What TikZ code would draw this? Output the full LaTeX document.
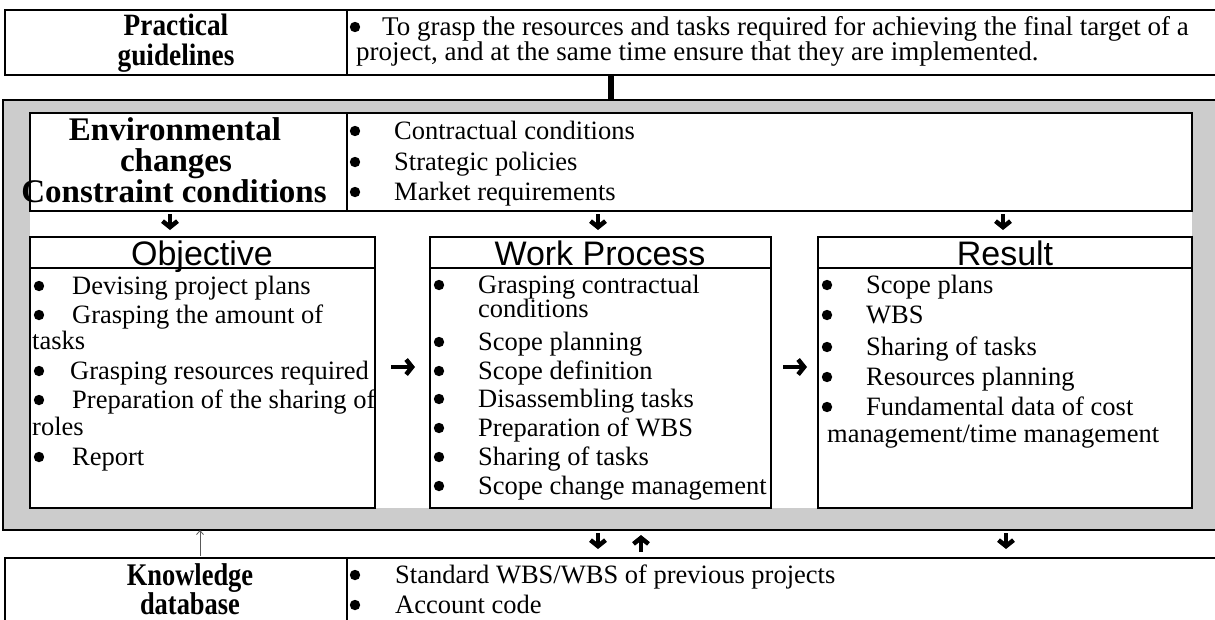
\documentclass[tikz,border=0pt]{standalone}
\usepackage{fontspec}
\setmainfont{Liberation Serif}
\newfontfamily\arialf{Liberation Sans}
\newfontfamily\condserif[FakeStretch=0.88]{Liberation Serif}
\newfontfamily\narrowserif[FakeStretch=0.84]{Liberation Serif}
\usetikzlibrary{arrows.meta}
\begin{document}
\begin{tikzpicture}[x=1pt,y=-1pt,
  cell/.style={draw, line width=2.5pt, anchor=north west, inner sep=0pt, outer sep=0pt},
  hdr/.style={font=\fontsize{33}{30}\selectfont\bfseries, anchor=base, inner sep=0pt},
  hdrs/.style={font=\condserif\fontsize{31}{30}\selectfont\bfseries, anchor=base, inner sep=0pt},
  hdrk/.style={font=\narrowserif\fontsize{31.5}{30}\selectfont\bfseries, anchor=base, inner sep=0pt},
  txt/.style={font=\fontsize{26.5}{27}\selectfont, anchor=base west, inner sep=0pt},
  toptxt/.style={font=\fontsize{27}{27}\selectfont, anchor=base west, inner sep=0pt},
  ttl/.style={font=\arialf\fontsize{34}{34}\selectfont, anchor=base, inner sep=0pt},
  bigarrow/.style={line width=4.5pt, -{Straight Barb[length=6pt,width=15pt]}},
]
\newcommand{\bl}[2]{\fill (#1,#2) circle (5.2pt);}
\useasboundingbox (0,0) rectangle (1215,619);
\clip (0,0) rectangle (1215,619);

% ---------- top box ----------
\node[cell, minimum width=342pt, minimum height=65pt] (pgL) at (5,10) {};
\node[cell, minimum width=900pt, minimum height=65pt] (pgR) at (347,10) {};
\node[hdrs] (pgH1) at (176,35) {Practical};
\node[hdrs] (pgH2) at (176,65) {guidelines};
\bl{355}{27}
\node[toptxt] (pgT1) at (382,35) {To grasp the resources and tasks required for achieving the final target of a};
\node[toptxt] (pgT2) at (356,60) {project, and at the same time ensure that they are implemented.};

% ---------- gray frame ----------
\node[cell, fill=gray!40, minimum width=1250pt, minimum height=430pt] (frame) at (3,100) {};
\fill[white] (30,113) rectangle (1192,508);
\draw[line width=6pt] (pgR.south -| 611,0) -- (frame.north -| 611,0);

% ---------- environment box ----------
\node[cell, minimum width=317pt, minimum height=98pt] (envL) at (30,113) {};
\node[cell, minimum width=845pt, minimum height=98pt] (envR) at (347,113) {};
\node[hdr] (envH1) at (175,140) {Environmental};
\node[hdr] (envH2) at (176,171) {changes};
\node[hdr] (envH3) at (174,202) {Constraint conditions};
\bl{355}{131}
\bl{355}{162}
\bl{355}{192}
\node[txt] (et1) at (394,139) {Contractual conditions};
\node[txt] (et2) at (394,170) {Strategic policies};
\node[txt] (et3) at (394,200) {Market requirements};

% ---------- three boxes ----------
\node[cell, minimum width=345pt, minimum height=31pt] (objT) at (30,237) {};
\node[cell, minimum width=345pt, minimum height=240pt] (objB) at (30,268) {};
\node[cell, minimum width=341pt, minimum height=31pt] (wpT) at (430,237) {};
\node[cell, minimum width=341pt, minimum height=240pt] (wpB) at (430,268) {};
\node[cell, minimum width=374pt, minimum height=31pt] (resT) at (818,237) {};
\node[cell, minimum width=374pt, minimum height=240pt] (resB) at (818,268) {};
\node[ttl] (objL) at (202,265) {Objective};
\node[ttl] (wpL) at (600,265) {Work Process};
\node[ttl] (resL) at (1005,265) {Result};

% objective items
\bl{39}{286}
\node[txt] (ot1) at (72,294) {Devising project plans};
\bl{39}{315}
\node[txt] (ot2) at (72,323) {Grasping the amount of};
\node[txt] (ot2b) at (32,349) {tasks};
\bl{39}{371}
\node[txt] (ot3) at (70,379) {Grasping resources required};
\bl{39}{400}
\node[txt] (ot4) at (72,408) {Preparation of the sharing of};
\node[txt] (ot4b) at (32,435) {roles};
\bl{39}{457}
\node[txt] (ot5) at (72,465) {Report};

% work process items
\bl{439}{285}
\node[txt] (wt1) at (478,293) {Grasping contractual};
\node[txt] (wt1b) at (478,317) {conditions};
\bl{439}{342}
\node[txt] (wt2) at (478,350) {Scope planning};
\bl{439}{371}
\node[txt] (wt3) at (478,379) {Scope definition};
\bl{439}{399}
\node[txt] (wt4) at (478,407) {Disassembling tasks};
\bl{439}{428}
\node[txt] (wt5) at (478,436) {Preparation of WBS};
\bl{439}{457}
\node[txt] (wt6) at (478,465) {Sharing of tasks};
\bl{439}{486}
\node[txt] (wt7) at (478,494) {Scope change management};

% result items
\bl{827}{285}
\node[txt] (rt1) at (866,293) {Scope plans};
\bl{827}{315}
\node[txt] (rt2) at (866,323) {WBS};
\bl{827}{347}
\node[txt] (rt3) at (866,355) {Sharing of tasks};
\bl{827}{377}
\node[txt] (rt4) at (866,385) {Resources planning};
\bl{827}{407}
\node[txt] (rt5) at (866,415) {Fundamental data of cost};
\node[txt] (rt5b) at (827,442) {management/time management};

% ---------- arrows ----------
\draw[bigarrow] (envL.south -| 170,0) ++(0,3) -- ++(0,16);
\draw[bigarrow] (envR.south -| 598,0) ++(0,3) -- ++(0,16);
\draw[bigarrow] (envR.south -| 1003,0) ++(0,3) -- ++(0,16);
\draw[bigarrow] (objB.east |- 0,367) ++(16,0) -- ++(24,0);
\draw[bigarrow] (wpB.east |- 0,367) ++(12,0) -- ++(24,0);

% ---------- knowledge box ----------
\node[cell, minimum width=342pt, minimum height=80pt] (kdL) at (5,558) {};
\node[cell, minimum width=900pt, minimum height=80pt] (kdR) at (347,558) {};
\node[hdrk] (kdH1) at (190,585) {Knowledge};
\node[hdrk] (kdH2) at (190,614) {database};
\bl{355}{575}
\bl{355}{605}
\node[txt] (kt1) at (395,583) {Standard WBS/WBS of previous projects};
\node[txt] (kt2) at (395,613) {Account code};

\draw[bigarrow] (frame.south -| 598,0) ++(0,3) -- ++(0,16);
\draw[bigarrow] (kdR.north -| 641,0) ++(0,-6) -- ++(0,-17);
\draw[bigarrow] (frame.south -| 1006,0) ++(0,3) -- ++(0,16);
\draw[gray!70!black, line width=0.8pt, -{Straight Barb[length=4pt,width=7pt]}] (kdL.north -| 200,0) ++(0,-2) -- (frame.south -| 200,0);
\end{tikzpicture}
\end{document}
